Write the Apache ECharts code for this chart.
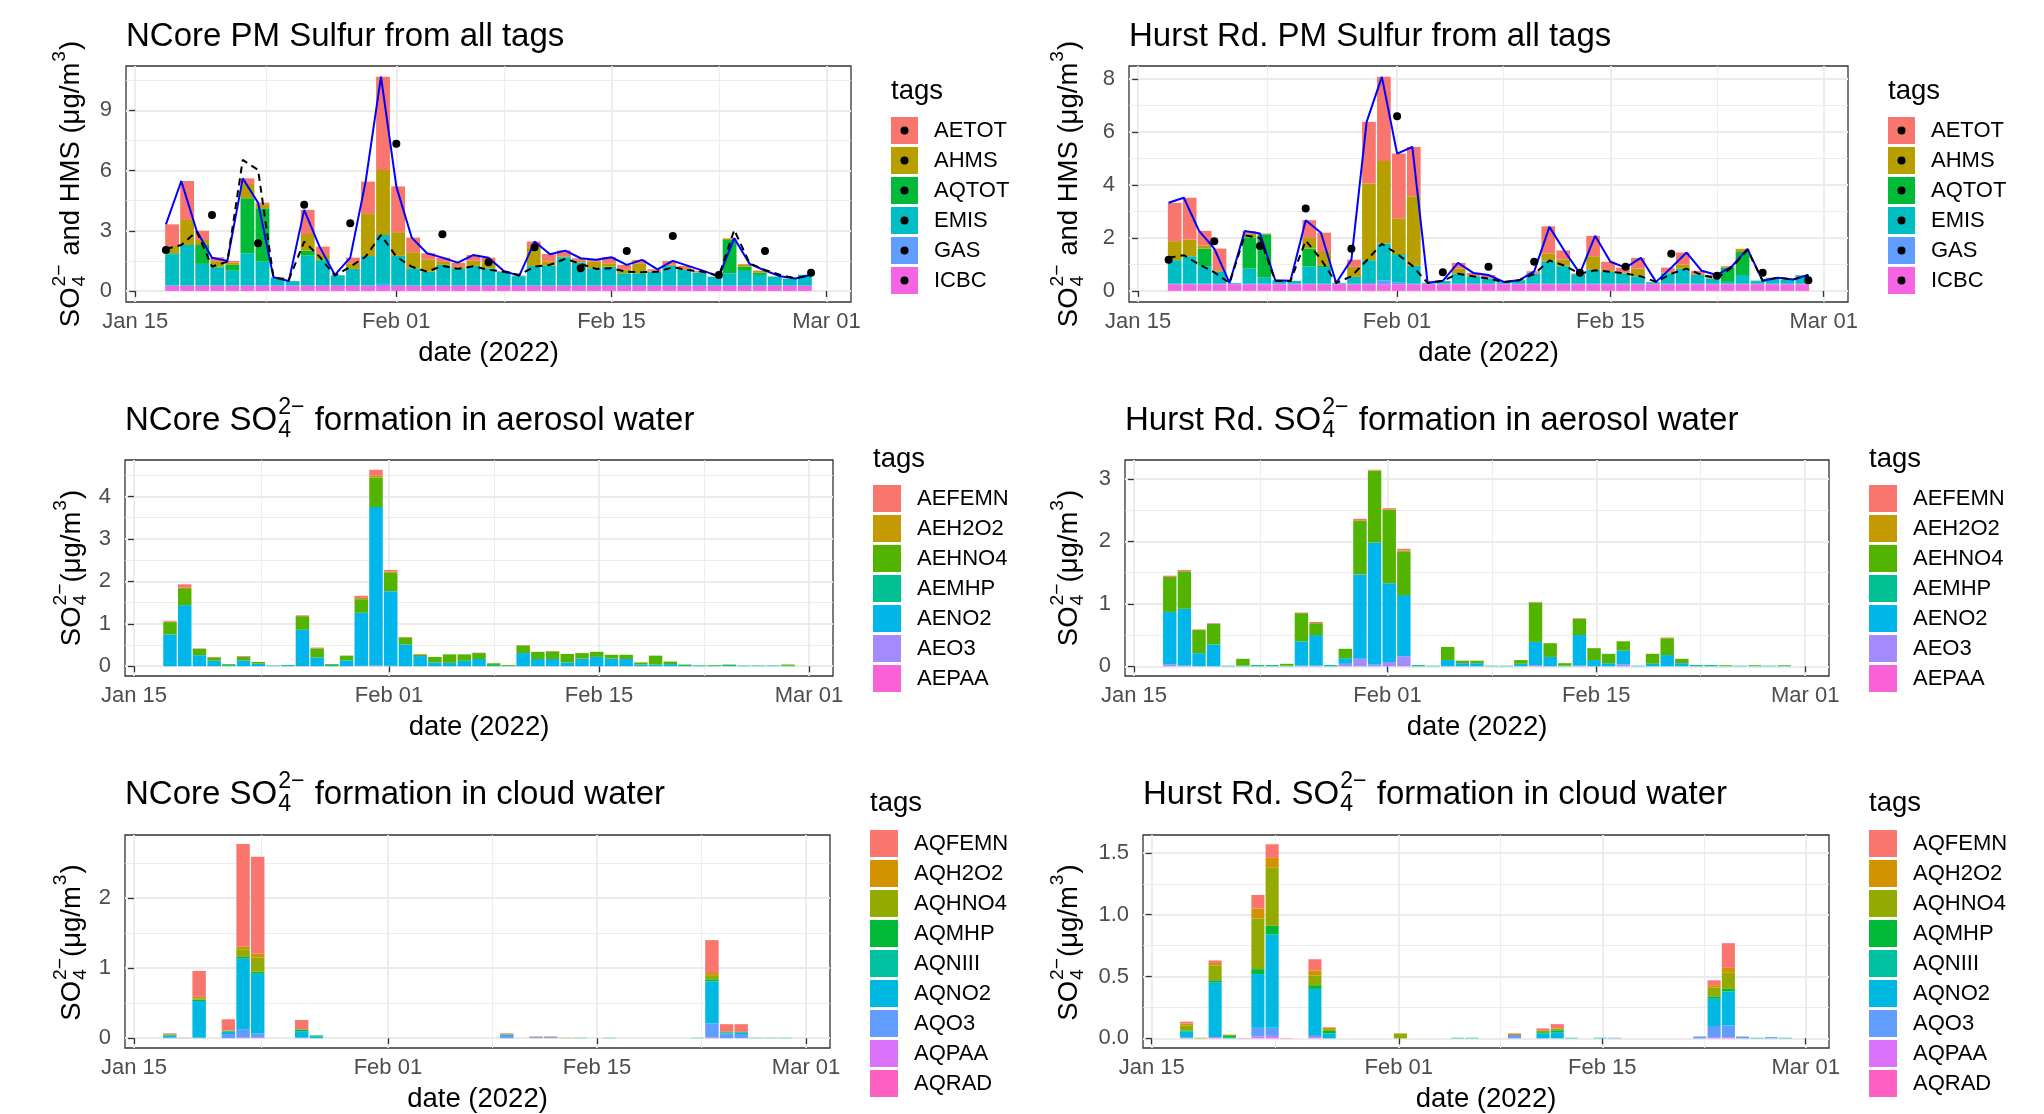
<!DOCTYPE html>
<html>
<head>
<meta charset="utf-8">
<title>PM sulfur from all tags</title>
<script src="https://cdn.jsdelivr.net/npm/echarts@6/dist/echarts.min.js"></script>
<style>
html, body { margin: 0; padding: 0; background: #fff; }
#chart { width: 2044px; height: 1114px; }
</style>
</head>
<body>
<div id="chart"></div>
<script>
// days with model output, Jan 17 .. Feb 28 2022
var dates = [
  '2022-01-17','2022-01-18','2022-01-19','2022-01-20','2022-01-21','2022-01-22','2022-01-23',
  '2022-01-24','2022-01-25','2022-01-26','2022-01-27','2022-01-28','2022-01-29','2022-01-30',
  '2022-01-31','2022-02-01','2022-02-02','2022-02-03','2022-02-04','2022-02-05','2022-02-06',
  '2022-02-07','2022-02-08','2022-02-09','2022-02-10','2022-02-11','2022-02-12','2022-02-13',
  '2022-02-14','2022-02-15','2022-02-16','2022-02-17','2022-02-18','2022-02-19','2022-02-20',
  '2022-02-21','2022-02-22','2022-02-23','2022-02-24','2022-02-25','2022-02-26','2022-02-27',
  '2022-02-28'
];
// filter samples (every third day)
var obsDates = ['2022-01-17','2022-01-20','2022-01-23','2022-01-26','2022-01-29','2022-02-01','2022-02-04',
  '2022-02-07','2022-02-10','2022-02-13','2022-02-16','2022-02-19','2022-02-22','2022-02-25','2022-02-28'];
var tickDates = ['2022-01-15','2022-02-01','2022-02-15','2022-03-01'];
var tickLabels = ['Jan 15','Feb 01','Feb 15','Mar 01'];
var minorDates = ['2022-01-23T12','2022-02-08','2022-02-22'];

var pmTags = ['AETOT','AHMS','AQTOT','EMIS','GAS','ICBC'];
var pmColors = ['#F8766D','#B79F00','#00BA38','#00BFC4','#619CFF','#F564E3'];
var aeTags = ['AEFEMN','AEH2O2','AEHNO4','AEMHP','AENO2','AEO3','AEPAA'];
var aeColors = ['#F8766D','#C49A00','#53B400','#00C094','#00B6EB','#A58AFF','#FB61D7'];
var aqTags = ['AQFEMN','AQH2O2','AQHNO4','AQMHP','AQNIII','AQNO2','AQO3','AQPAA','AQRAD'];
var aqColors = ['#F8766D','#D39200','#93AA00','#00BA38','#00C19F','#00B9E3','#619CFF','#DB72FB','#FF61C3'];

// ---- NCore, PM sulfur by tag ----
var ncAETOT = [1.08,1.94,0.46,0.20,0.09,0.28,0.11, 0.01,0,1.20,0.42,0.01,0.28,1.61, 4.65,2.28,0.73,0.30,0.21,0.21,0.28,
  0.23,0.03,0.01,0.28,0.37,0.29,0.13, 0.09,0.30,0.25,0.17,0.10,0.20,0.15, 0.07,0.01,0.02,0.02,0.02,0.01,0.01, 0.01];
var ncAHMS = [0.36,1.25,0.25,0.26,0.11,0.71,0.17, 0.01,0.01,0.83,0.23,0.01,0.28,2.10, 3.24,1.18,0.80,0.62,0.15,0.10,0.26,
  0.30,0.02,0.01,0.93,0.21,0.04,0.09, 0.33,0.17,0.17,0.50,0.02,0.05,0.05, 0.02,0,0.07,0.12,0.09,0,0, 0];
var ncAQTOT = [0.05,0,0.94,0.04,0.29,2.74,2.66, 0,0,0.25,0.05,0,0,0, 0,0,0,0,0,0,0,
  0,0,0.02,0,0.01,0.01,0, 0,0,0,0,0,0,0, 0,0,1.66,0.21,0.11,0.01,0, 0];
var ncEMIS = [1.56,2.02,1.08,0.91,0.74,1.61,1.19, 0.39,0.22,1.49,1.24,0.51,0.83,1.47, 2.44,1.47,0.86,0.69,1.03,0.83,0.98,
  0.86,0.68,0.46,0.98,0.98,1.41,1.14, 0.86,0.94,0.61,0.61,0.69,0.98,0.78, 0.64,0.44,0.61,0.73,0.53,0.44,0.34, 0.53];
var ncGAS = [0.02,0.02,0.02,0.02,0.02,0.02,0.02, 0.02,0.02,0.02,0.02,0.02,0.02,0.02, 0.10,0.03,0.02,0.02,0.02,0.02,0.02,
  0.02,0.02,0.02,0.02,0.02,0.02,0.02, 0.02,0.02,0.02,0.02,0.02,0.02,0.02, 0.02,0.02,0.02,0.02,0.02,0.02,0.02, 0.02];
var ncICBC = [0.25,0.25,0.25,0.25,0.25,0.25,0.25, 0.25,0.25,0.25,0.25,0.25,0.25,0.25, 0.25,0.25,0.25,0.25,0.25,0.25,0.25,
  0.25,0.25,0.25,0.25,0.25,0.25,0.25, 0.25,0.25,0.25,0.25,0.25,0.25,0.25, 0.25,0.25,0.25,0.25,0.25,0.25,0.25, 0.25];
var ncTotal = [3.32,5.48,3.00,1.66,1.50,5.61,4.40, 0.68,0.50,4.04,2.21,0.80,1.66,5.45, 10.68,5.20,2.66,1.88,1.66,1.41,1.79,
  1.66,1.00,0.75,2.46,1.83,2.01,1.63, 1.55,1.68,1.30,1.55,1.08,1.50,1.25, 1.00,0.72,2.63,1.35,1.02,0.73,0.62, 0.81];
var ncDashed = [2.09,2.29,2.96,1.21,1.46,6.53,6.03, 0.68,0.55,2.46,1.71,0.76,1.21,1.71, 2.79,1.71,1.21,0.96,1.25,1.10,1.23,
  1.06,0.96,0.80,1.21,1.30,1.60,1.35, 1.10,1.13,0.96,0.93,0.96,1.18,1.05, 0.95,0.75,3.04,1.38,1.05,0.80,0.63, 0.80];
var ncObs = [2.04,3.79,2.38,4.29,3.37,7.33,2.82,1.43,2.18,1.13,1.99,2.74,0.80,1.99,0.91];

// ---- Hurst Rd., PM sulfur by tag ----
var hrAETOT = [1.45,1.58,0.55,0.82,0,0.09,0.01, 0,0,0.67,0.73,0,0.27,2.33, 3.18,2.45,1.86,0.01,0,0.22,0.11,
  0.10,0.01,0,0.06,1.03,0.34,0.02, 0.77,0.32,0.18,0.41,0,0.18,0.45, 0.13,0.10,0.01,0.01,0,0,0, 0];
var hrAHMS = [0.72,0.63,0.12,0.06,0,0.15,0.02, 0,0,0.40,0.52,0,0.38,2.90, 3.12,1.35,2.63,0,0.01,0.18,0.02,
  0.03,0,0.01,0.02,0.27,0.23,0.01, 0.51,0.06,0.04,0.29,0.01,0.04,0.16, 0.03,0.03,0.05,0.11,0.01,0.01,0.01, 0.01];
var hrAQTOT = [0,0,0.67,0,0,1.18,1.64, 0,0,0.67,0.05,0,0,0, 0,0.04,0,0,0,0,0,
  0,0,0.02,0,0.02,0.03,0, 0,0,0,0,0,0,0, 0,0,0.54,0.87,0.01,0,0, 0];
var hrEMIS = [0.89,1.04,0.66,0.45,0.03,0.57,0.23, 0.13,0.11,0.66,0.63,0.03,0.26,0.86, 1.39,1.02,0.68,0.03,0.10,0.39,0.28,
  0.20,0.06,0.12,0.39,0.85,0.66,0.36, 0.53,0.45,0.39,0.28,0.06,0.39,0.57, 0.33,0.20,0.07,0.33,0.10,0.22,0.15, 0.32];
var hrGAS = [0.02,0.02,0.02,0.02,0.02,0.02,0.02, 0.02,0.02,0.02,0.02,0.02,0.02,0.05, 0.15,0.08,0.02,0.02,0.02,0.02,0.02,
  0.02,0.02,0.02,0.02,0.02,0.02,0.02, 0.02,0.02,0.02,0.02,0.02,0.02,0.02, 0.02,0.02,0.02,0.02,0.02,0.02,0.02, 0.02];
var hrICBC = [0.25,0.25,0.25,0.25,0.25,0.25,0.25, 0.25,0.25,0.25,0.25,0.25,0.25,0.25, 0.25,0.25,0.25,0.25,0.25,0.25,0.25,
  0.25,0.25,0.25,0.25,0.25,0.25,0.25, 0.25,0.25,0.25,0.25,0.25,0.25,0.25, 0.25,0.25,0.25,0.25,0.25,0.25,0.25, 0.25];
var hrTotal = [3.33,3.52,2.27,1.60,0.30,2.26,2.17, 0.40,0.38,2.67,2.20,0.30,1.18,6.39, 8.09,5.19,5.44,0.31,0.38,1.06,0.68,
  0.60,0.34,0.40,0.74,2.42,1.50,0.66, 2.08,1.10,0.88,1.25,0.34,0.88,1.45, 0.76,0.60,0.94,1.59,0.38,0.50,0.43, 0.60];
var hrDashed = [1.25,1.35,1.00,0.70,0.30,2.10,2.00, 0.38,0.37,1.90,1.20,0.30,0.55,1.15, 1.78,1.40,0.95,0.30,0.38,0.65,0.55,
  0.47,0.33,0.40,0.64,1.15,0.95,0.65, 0.78,0.72,0.66,0.55,0.34,0.65,0.84, 0.60,0.47,0.90,1.55,0.38,0.50,0.43, 0.60];
var hrObs = [1.18,1.88,1.70,3.11,1.59,6.60,0.70,0.91,1.10,0.69,0.91,1.40,0.57,0.69,0.40];

// ---- NCore, sulfate formed in aerosol water ----
var ncAEFEMN = [0.02,0.08,0.01,0.01,0,0.02,0, 0,0,0.02,0.02,0,0,0.05, 0.14,0.04,0.01,0.01,0,0,0,
  0.01,0,0,0.01,0,0.01,0, 0,0,0,0,0,0,0, 0,0,0,0,0,0,0, 0];
var ncAEH2O2 = [0.01,0.03,0,0,0,0,0, 0,0,0,0,0,0,0.03, 0.04,0.03,0,0,0,0,0,
  0,0,0,0,0,0,0, 0,0,0,0,0,0,0, 0,0,0,0,0,0,0, 0];
var ncAEHNO4 = [0.29,0.38,0.15,0.08,0.02,0.08,0.04, 0,0,0.32,0.21,0.02,0.11,0.32, 0.70,0.43,0.17,0.04,0.13,0.20,0.15,
  0.14,0.04,0.02,0.18,0.17,0.18,0.20, 0.13,0.12,0.09,0.10,0.05,0.21,0.06, 0.01,0,0.01,0.01,0,0,0, 0.03];
var ncAEMHP = [0,0,0,0,0.02,0,0, 0.01,0.02,0,0,0.03,0,0, 0,0,0,0,0,0,0,
  0,0.03,0.01,0,0,0,0, 0,0,0,0,0,0,0, 0.03,0.02,0.02,0.03,0.015,0.015,0.015, 0.01];
var ncAENO2 = [0.75,1.44,0.26,0.13,0.01,0.14,0.06, 0.005,0.01,0.86,0.21,0,0.14,1.25, 3.73,1.76,0.51,0.24,0.09,0.08,0.13,
  0.17,0,0,0.31,0.17,0.17,0.09, 0.18,0.22,0.18,0.17,0.04,0.04,0.05, 0,0,0,0,0,0,0, 0];
var ncAEO3 = [0,0,0,0,0,0,0, 0,0,0,0,0,0,0.01, 0.02,0.01,0,0,0,0,0,
  0,0,0,0,0,0,0, 0,0,0,0,0,0,0, 0,0,0,0,0,0,0, 0];
var ncAEPAA = [0,0,0,0,0,0,0, 0,0,0,0,0,0,0, 0,0,0,0,0,0,0,
  0,0,0,0,0,0,0, 0,0,0,0,0,0,0, 0,0,0,0,0,0,0, 0];

// ---- Hurst Rd., sulfate formed in aerosol water ----
var hrAEFEMN = [0.02,0.02,0.01,0.01,0,0,0, 0,0,0.01,0.02,0,0,0.02, 0.01,0.02,0.03,0,0,0,0,
  0,0,0,0,0.01,0,0, 0.01,0,0,0,0,0,0.01, 0,0,0,0,0,0,0, 0];
var hrAEH2O2 = [0,0,0,0,0,0,0, 0,0,0,0,0,0,0.01, 0.005,0.01,0.01,0,0,0,0,
  0,0,0,0,0,0,0, 0,0,0,0,0,0,0, 0,0,0,0,0,0,0, 0];
var hrAEHNO4 = [0.56,0.60,0.37,0.33,0,0.11,0, 0,0.03,0.45,0.19,0,0.15,0.86, 1.15,1.17,0.70,0,0,0.21,0.04,
  0.04,0,0,0.06,0.63,0.22,0.04, 0.26,0.19,0.15,0.15,0,0.16,0.27, 0.07,0,0,0.01,0,0.01,0, 0.01];
var hrAEMHP = [0,0,0,0,0.01,0,0.02, 0.02,0.01,0,0,0.02,0,0, 0,0,0,0.02,0.01,0,0,
  0,0.01,0.01,0,0,0,0.01, 0,0,0,0,0.01,0,0, 0,0.02,0.02,0.01,0.01,0.01,0.01, 0.01];
var hrAENO2 = [0.84,0.91,0.21,0.35,0,0.01,0, 0,0,0.39,0.49,0,0.09,1.35, 1.95,1.26,0.98,0,0,0.10,0.05,
  0.05,0,0,0.04,0.37,0.15,0, 0.49,0.10,0.05,0.22,0,0.04,0.18, 0.05,0,0,0,0,0,0, 0];
var hrAEO3 = [0.03,0.01,0,0,0,0,0, 0,0,0.01,0.01,0,0.04,0.12, 0.03,0.07,0.16,0,0,0,0,
  0,0,0,0,0.02,0,0, 0.01,0,0,0.03,0,0,0, 0,0,0,0,0,0,0, 0];
var hrAEPAA = [0,0,0,0,0,0,0, 0,0,0,0,0,0,0, 0,0,0,0,0,0,0,
  0,0,0,0,0,0,0, 0,0,0,0,0,0,0, 0,0,0,0,0,0,0, 0];

// ---- NCore, sulfate formed in cloud water ----
var ncAQFEMN = [0.01,0.005,0.37,0,0.16,1.46,1.38, 0,0,0.13,0,0,0,0, 0,0,0,0,0,0,0,
  0,0,0.015,0,0.01,0.01,0, 0,0,0,0,0,0,0, 0,0,0.47,0.10,0.11,0,0, 0];
var ncAQH2O2 = [0.005,0,0.02,0,0,0.04,0.06, 0,0,0,0,0,0,0, 0,0,0,0,0,0,0,
  0,0,0,0,0,0,0.005, 0,0,0,0,0,0,0, 0,0,0.03,0,0,0,0, 0];
var ncAQHNO4 = [0.01,0,0.02,0,0.01,0.11,0.20, 0,0,0.01,0,0,0,0, 0,0,0,0,0,0,0,
  0,0,0.005,0,0,0,0, 0,0,0,0,0,0,0, 0,0,0.06,0.01,0,0,0, 0];
var ncAQMHP = [0.005,0,0.02,0,0.01,0.02,0.03, 0,0,0.02,0.01,0,0,0, 0,0,0,0,0,0,0,
  0,0,0,0,0,0,0, 0,0,0,0,0,0,0, 0,0,0.03,0.01,0.01,0,0, 0];
var ncAQNIII = [0,0,0,0,0,0,0, 0,0,0,0.01,0,0,0, 0,0,0,0,0,0,0,
  0,0,0,0,0,0,0, 0.005,0,0.005,0,0,0,0, 0,0.005,0,0,0,0.005,0.005, 0.005];
var ncAQNO2 = [0.03,0,0.52,0,0.03,1.01,0.85, 0,0,0.09,0.02,0,0,0, 0,0,0,0,0,0,0,
  0,0,0.02,0,0.005,0.005,0, 0,0,0,0,0,0,0, 0,0,0.60,0.01,0.02,0,0, 0];
var ncAQO3 = [0.01,0,0.01,0,0.06,0.12,0.06, 0,0,0.01,0,0,0,0, 0,0,0,0,0,0,0,
  0,0,0.03,0,0.01,0.01,0, 0,0,0,0,0,0,0, 0,0,0.20,0.07,0.06,0,0, 0];
var ncAQPAA = [0,0,0,0,0,0.01,0.01, 0,0,0,0,0,0,0, 0,0,0,0,0,0,0,
  0,0,0,0,0,0,0, 0,0,0,0,0,0,0, 0,0,0.01,0,0,0,0, 0];
var ncAQRAD = [0,0,0,0,0,0,0, 0,0,0,0,0,0,0, 0,0,0,0,0,0,0,
  0,0,0,0,0,0,0, 0,0,0,0,0,0,0, 0,0,0,0,0,0,0, 0];

// ---- Hurst Rd., sulfate formed in cloud water ----
var hrAQFEMN = [0.015,0,0.02,0,0,0.11,0.11, 0,0,0.09,0.005,0,0,0, 0,0,0,0,0,0,0,
  0,0,0,0,0.015,0.035,0, 0,0,0,0,0,0,0, 0,0,0.04,0.20,0,0,0, 0];
var hrAQH2O2 = [0.015,0,0.02,0,0,0.08,0.08, 0,0,0.04,0.01,0,0,0, 0,0,0,0,0,0,0,
  0,0,0.013,0,0,0,0, 0,0,0,0,0,0,0, 0,0,0.02,0.04,0,0,0, 0];
var hrAQHNO4 = [0.04,0.005,0.12,0.01,0,0.41,0.47, 0,0,0.08,0.015,0,0,0, 0,0.04,0,0,0,0,0,
  0,0,0,0,0.015,0.015,0, 0,0,0,0,0,0,0, 0,0,0.07,0.13,0,0,0, 0];
var hrAQMHP = [0.01,0,0.02,0.01,0,0.04,0.07, 0,0,0.03,0.02,0,0,0, 0,0,0,0,0,0,0,
  0,0,0,0,0.01,0.015,0, 0,0,0,0,0,0,0, 0,0,0.02,0.02,0,0,0, 0];
var hrAQNIII = [0,0,0,0.01,0,0,0, 0,0,0,0,0,0,0, 0,0,0,0,0,0.005,0.005,
  0,0,0,0,0,0,0.005, 0,0.005,0,0,0,0,0, 0,0,0,0,0,0.005,0, 0.005];
var hrAQNO2 = [0.05,0,0.44,0,0,0.435,0.755, 0,0,0.373,0.04,0,0,0, 0,0,0,0,0,0,0,
  0,0,0,0,0.04,0.05,0, 0,0,0,0,0,0,0, 0,0,0.22,0.275,0,0,0, 0];
var hrAQO3 = [0,0,0,0,0,0.07,0.065, 0,0,0.017,0,0,0,0, 0,0,0,0,0,0,0,
  0,0,0.027,0,0,0,0, 0,0,0.005,0,0,0,0, 0,0.015,0.09,0.095,0.015,0,0.01, 0];
var hrAQPAA = [0.005,0,0.01,0,0,0.015,0.02, 0,0,0.01,0,0,0,0, 0,0,0,0,0,0,0,
  0,0,0,0,0,0,0, 0,0,0,0,0,0,0, 0,0,0.01,0.01,0,0,0, 0];
var hrAQRAD = [0,0,0,0,0.003,0,0, 0.003,0,0,0,0,0,0, 0,0,0,0,0,0,0,
  0,0,0,0,0,0,0, 0,0,0,0,0,0,0, 0,0,0,0,0,0,0, 0];

var FONT = '"Liberation Sans", Arial, Helvetica, sans-serif';
var DAYMS = 86400000;
var DAY0 = Date.UTC(2022, 0, 15);
function toTime(s) {
  var p = s.split('T'), d = p[0].split('-');
  return Date.UTC(+d[0], +d[1] - 1, +d[2]) + (p[1] ? +p[1] * 3600000 : 0);
}
// visible axes count days after Jan 15 2022; the bars sit on a hidden time axis over the same span
function dayOf(s) { return (toTime(s) - DAY0) / DAYMS; }
var days = dates.map(dayOf);
var times = dates.map(toTime);
var obsDays = obsDates.map(dayOf);
var tickDays = tickDates.map(dayOf);
var minorDays = minorDates.map(dayOf);
var XMIN = -0.6, XMAX = 46.6;

var SO4 = ['SO', { sup: '2\u2212', sub: '4' }];
var yTitlePM = SO4.concat([' and HMS (\u03bcg/m', { sup: '3' }, ')']);
var yTitleSO4 = SO4.concat(['(\u03bcg/m', { sup: '3' }, ')']);

var panels = [
  { left: 126, top: 66, width: 725, height: 236, ymin: -0.55, ymax: 11.21, yMajor: [0, 3, 6, 9], yMinor: [1.5, 4.5, 7.5, 10.5],
    title: ['NCore PM Sulfur from all tags'], titleY: 37, yTitle: yTitlePM, yTitleX: 71, legendTop: 117, tagsY: 91, keyW: 27 },
  { left: 1129, top: 66, width: 719, height: 236, ymin: -0.42, ymax: 8.5, yMajor: [0, 2, 4, 6, 8], yMinor: [1, 3, 5, 7],
    title: ['Hurst Rd. PM Sulfur from all tags'], titleY: 37, yTitle: yTitlePM, yTitleX: 1069, legendTop: 117, tagsY: 91, keyW: 27 },
  { left: 125, top: 460, width: 708, height: 216, ymin: -0.23, ymax: 4.86, yMajor: [0, 1, 2, 3, 4], yMinor: [0.5, 1.5, 2.5, 3.5, 4.5],
    title: ['NCore '].concat(SO4, [' formation in aerosol water']), titleY: 421, yTitle: yTitleSO4, yTitleX: 72, legendTop: 485, tagsY: 459, keyW: 28 },
  { left: 1125, top: 460, width: 704, height: 216, ymin: -0.155, ymax: 3.3, yMajor: [0, 1, 2, 3], yMinor: [0.5, 1.5, 2.5],
    title: ['Hurst Rd. '].concat(SO4, [' formation in aerosol water']), titleY: 421, yTitle: yTitleSO4, yTitleX: 1069, legendTop: 485, tagsY: 459, keyW: 28 },
  { left: 125, top: 835, width: 705, height: 215, ymin: -0.14, ymax: 2.9, yMajor: [0, 1, 2], yMinor: [0.5, 1.5, 2.5],
    title: ['NCore '].concat(SO4, [' formation in cloud water']), titleY: 795, yTitle: yTitleSO4, yTitleX: 72, legendTop: 830, tagsY: 803, keyW: 28 },
  { left: 1143, top: 835, width: 686, height: 215, ymin: -0.078, ymax: 1.645, yMajor: [0, 0.5, 1, 1.5], yMinor: [0.25, 0.75, 1.25],
    title: ['Hurst Rd. '].concat(SO4, [' formation in cloud water']), titleY: 795, yTitle: yTitleSO4, yTitleX: 1069, legendTop: 830, tagsY: 803, keyW: 28, yDec: 1 }
];

var measure = document.createElement('canvas').getContext('2d');
function textW(s, size) {
  measure.font = size + 'px ' + FONT;
  return measure.measureText(s).width;
}
function txt(s, x, y, size) {
  return { type: 'text', x: x, y: y, style: { text: s, font: size + 'px ' + FONT, fontSize: size, fontFamily: FONT,
    fill: '#000', align: 'left', textAlign: 'left', verticalAlign: 'middle', textVerticalAlign: 'middle' } };
}
// text with plotmath-like sub/superscripts
function mathText(parts, size, x, y, rotate) {
  var small = size * 0.7, kids = [], cx = 0;
  parts.forEach(function (p) {
    if (typeof p === 'string') {
      kids.push(txt(p, cx, 0, size));
      cx += textW(p, size);
    } else {
      var w = 0;
      if (p.sup) { kids.push(txt(p.sup, cx + 1, -size * 0.42, small)); w = Math.max(w, textW(p.sup, small)); }
      if (p.sub) { kids.push(txt(p.sub, cx + 1, size * 0.3, small)); w = Math.max(w, textW(p.sub, small)); }
      cx += w + 2;
    }
  });
  return { type: 'group', x: x, y: y, rotation: rotate ? Math.PI / 2 : 0,
    children: [{ type: 'group', x: rotate ? -cx / 2 : 0, children: kids }] };
}

var option = { animation: false, backgroundColor: '#ffffff', grid: [], xAxis: [], yAxis: [], series: [], legend: [], graphic: { elements: [] } };
var tickStyle = { show: true, length: 6, lineStyle: { color: '#333333', width: 1.3 } };
var hidden = { axisLine: { show: false }, axisTick: { show: false }, axisLabel: { show: false }, splitLine: { show: false } };

panels.forEach(function (p, gi) {
  option.grid.push({ left: p.left, top: p.top, width: p.width, height: p.height, show: true,
    borderColor: '#333333', borderWidth: 1.3, backgroundColor: 'transparent' });
  // 3*gi: visible date axis, 3*gi+1: minor grid lines, 3*gi+2: hidden time axis for the stacked bars
  option.xAxis.push({
    type: 'value', gridIndex: gi, min: XMIN, max: XMAX, position: 'bottom',
    axisLine: { show: false },
    axisTick: Object.assign({ customValues: tickDays }, tickStyle),
    axisLabel: { customValues: tickDays, fontSize: 22, color: '#4D4D4D', fontFamily: FONT, margin: 9,
      formatter: function (v) { var i = tickDays.indexOf(v); return i >= 0 ? tickLabels[i] : ''; } },
    splitLine: { show: true, lineStyle: { color: '#EBEBEB', width: 1.8 } },
    name: 'date (2022)', nameLocation: 'middle', nameGap: 37,
    nameTextStyle: { fontSize: 27.5, color: '#000', fontFamily: FONT }
  });
  option.xAxis.push({
    type: 'value', gridIndex: gi, min: XMIN, max: XMAX, position: 'top', axisLine: { show: false },
    axisTick: { show: false, customValues: minorDays }, axisLabel: { show: false, customValues: minorDays },
    splitLine: { show: true, lineStyle: { color: '#EBEBEB', width: 0.9 } }
  });
  option.xAxis.push(Object.assign({
    type: 'time', gridIndex: gi, position: 'top', min: DAY0 + XMIN * DAYMS, max: DAY0 + XMAX * DAYMS
  }, hidden));
  option.yAxis.push({
    type: 'value', gridIndex: gi, min: p.ymin, max: p.ymax,
    axisLine: { show: false },
    axisTick: Object.assign({ customValues: p.yMajor }, tickStyle),
    axisLabel: { customValues: p.yMajor, fontSize: 22, color: '#4D4D4D', fontFamily: FONT, margin: 14,
      formatter: function (v) { return p.yDec ? v.toFixed(p.yDec) : String(v); } },
    splitLine: { show: true, lineStyle: { color: '#EBEBEB', width: 1.8 } }
  });
  option.yAxis.push({
    type: 'value', gridIndex: gi, min: p.ymin, max: p.ymax, axisLine: { show: false },
    axisTick: { show: false, customValues: p.yMinor }, axisLabel: { show: false, customValues: p.yMinor },
    splitLine: { show: true, lineStyle: { color: '#EBEBEB', width: 0.9 } }
  });
  option.graphic.elements.push(mathText(p.title, 33, p.left, p.titleY, false));
  option.graphic.elements.push(mathText(p.yTitle, 27.5, p.yTitleX, p.top + p.height / 2, true));
  option.graphic.elements.push(txt('tags', p.left + p.width + 40, p.tagsY, 27.5));
});

function addStack(gi, names, colors, arrays) {
  var p = panels[gi];
  var bw = 0.9 * p.width / (XMAX - XMIN);
  // ggplot puts the first level on top, so stack from the last one up
  for (var k = arrays.length - 1; k >= 0; k--) {
    option.series.push({
      type: 'bar', name: names[k], xAxisIndex: 3 * gi + 2, yAxisIndex: 2 * gi, stack: 'tags' + gi,
      barWidth: bw, silent: true, itemStyle: { color: colors[k] },
      data: times.map(function (t, i) { return [t, arrays[k][i]]; })
    });
  }
  option.legend.push({
    left: p.left + p.width + 40, top: p.legendTop, orient: 'vertical', padding: 0,
    itemWidth: p.keyW, itemHeight: 27, itemGap: 3, icon: 'rect', selectedMode: false,
    data: names.slice(),
    textStyle: { fontSize: 22, color: '#000', fontFamily: FONT, padding: [0, 0, 0, 11] }
  });
}
function addLines(gi, total, dashed, obs) {
  option.series.push({
    type: 'line', name: 'model total ' + gi, xAxisIndex: 3 * gi, yAxisIndex: 2 * gi, symbol: 'none', silent: true, z: 3,
    lineStyle: { color: '#0000FF', width: 2 }, data: days.map(function (d, i) { return [d, total[i]]; })
  });
  option.series.push({
    type: 'line', name: 'model dashed ' + gi, xAxisIndex: 3 * gi, yAxisIndex: 2 * gi, symbol: 'none', silent: true, z: 4,
    lineStyle: { color: '#000000', width: 2, type: [7, 5] }, data: days.map(function (d, i) { return [d, dashed[i]]; })
  });
  option.series.push({
    type: 'scatter', name: 'observed ' + gi, xAxisIndex: 3 * gi, yAxisIndex: 2 * gi, symbolSize: 8, silent: true, z: 5,
    itemStyle: { color: '#000000', opacity: 1 }, data: obsDays.map(function (d, i) { return [d, obs[i]]; })
  });
  // black dots drawn on the legend keys
  var p = panels[gi];
  pmTags.forEach(function (t, k) {
    option.graphic.elements.push({ type: 'circle', z: 100, shape: { cx: p.left + p.width + 40 + p.keyW / 2, cy: p.legendTop + 13.5 + 30 * k, r: 4 },
      style: { fill: '#000' } });
  });
}

addStack(0, pmTags, pmColors, [ncAETOT, ncAHMS, ncAQTOT, ncEMIS, ncGAS, ncICBC]);
addLines(0, ncTotal, ncDashed, ncObs);
addStack(1, pmTags, pmColors, [hrAETOT, hrAHMS, hrAQTOT, hrEMIS, hrGAS, hrICBC]);
addLines(1, hrTotal, hrDashed, hrObs);
addStack(2, aeTags, aeColors, [ncAEFEMN, ncAEH2O2, ncAEHNO4, ncAEMHP, ncAENO2, ncAEO3, ncAEPAA]);
addStack(3, aeTags, aeColors, [hrAEFEMN, hrAEH2O2, hrAEHNO4, hrAEMHP, hrAENO2, hrAEO3, hrAEPAA]);
addStack(4, aqTags, aqColors, [ncAQFEMN, ncAQH2O2, ncAQHNO4, ncAQMHP, ncAQNIII, ncAQNO2, ncAQO3, ncAQPAA, ncAQRAD]);
addStack(5, aqTags, aqColors, [hrAQFEMN, hrAQH2O2, hrAQHNO4, hrAQMHP, hrAQNIII, hrAQNO2, hrAQO3, hrAQPAA, hrAQRAD]);

var chart = echarts.init(document.getElementById('chart'), null, { renderer: 'canvas' });
chart.setOption(option);
</script>
</body>
</html>
